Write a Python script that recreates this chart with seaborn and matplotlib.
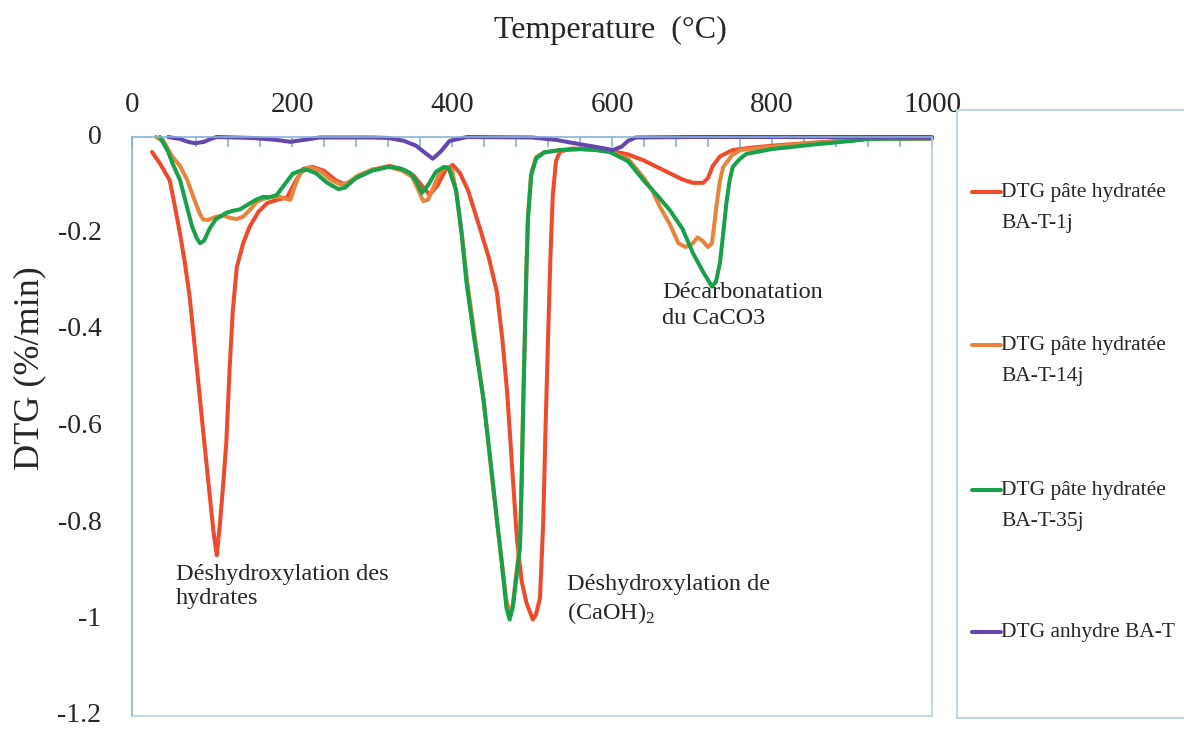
import pandas as pd
import seaborn as sns
import matplotlib.pyplot as plt
from matplotlib.ticker import MultipleLocator

# values: temperature (°C) / DTG (%/min)
t_1j = [25, 35, 47, 52, 60, 66, 72, 80, 89, 97, 102, 106, 110, 114, 118, 122, 126, 131, 139, 147,
        158, 169, 182, 194, 205, 214, 226, 240, 255, 266, 280, 300, 322, 340, 352, 362, 372, 382,
        392, 401, 410, 420, 435, 446, 456, 463, 469, 475, 481, 487, 493, 501, 505, 510, 514, 517,
        520, 523, 526, 530, 535, 550, 575, 597, 620, 639, 656, 672, 688, 701, 714, 720, 726, 735,
        751, 775, 800, 850, 900, 925, 1000]
dtg_1j = [-0.031, -0.055, -0.089, -0.13, -0.20, -0.26, -0.33, -0.46, -0.61, -0.74, -0.82, -0.867,
          -0.80, -0.72, -0.63, -0.48, -0.36, -0.27, -0.22, -0.186, -0.155, -0.137, -0.13, -0.125,
          -0.09, -0.066, -0.062, -0.07, -0.09, -0.098, -0.085, -0.068, -0.06, -0.068, -0.08, -0.10,
          -0.12, -0.10, -0.068, -0.058, -0.075, -0.11, -0.19, -0.25, -0.32, -0.42, -0.53, -0.68,
          -0.83, -0.92, -0.965, -1.0, -0.99, -0.955, -0.80, -0.60, -0.42, -0.25, -0.12, -0.05,
          -0.03, -0.024, -0.025, -0.028, -0.036, -0.048, -0.062, -0.075, -0.088, -0.095, -0.095,
          -0.085, -0.06, -0.04, -0.027, -0.022, -0.018, -0.012, -0.006, -0.003, -0.003]

t_14j = [30, 40, 50, 60, 69, 78, 85, 89, 95, 106, 115, 123, 131, 139, 148, 156, 165, 175, 185, 192,
         198, 204, 210, 222, 235, 248, 260, 270, 282, 300, 322, 338, 350, 358, 364, 370, 378, 386,
         394, 400, 406, 413, 419, 429, 440, 449, 457, 463, 468, 472, 476, 480, 485, 487, 489, 491,
         493, 495, 499, 505, 515, 535, 560, 580, 597, 620, 639, 650, 660, 672, 683, 692, 700, 707,
         713, 720, 725, 728, 731, 735, 739, 750, 760, 800, 850, 900, 920, 1000]
dtg_14j = [0.0, -0.01, -0.04, -0.06, -0.089, -0.13, -0.16, -0.171, -0.172, -0.165, -0.163, -0.168,
           -0.17, -0.165, -0.15, -0.134, -0.128, -0.124, -0.124, -0.128, -0.13, -0.10, -0.075,
           -0.062, -0.07, -0.088, -0.098, -0.095, -0.08, -0.068, -0.062, -0.07, -0.082, -0.11,
           -0.133, -0.13, -0.10, -0.07, -0.062, -0.068, -0.12, -0.21, -0.30, -0.42, -0.55, -0.69,
           -0.81, -0.89, -0.96, -0.985, -0.97, -0.91, -0.84, -0.71, -0.55, -0.41, -0.27, -0.16,
           -0.075, -0.042, -0.032, -0.027, -0.025, -0.027, -0.03, -0.045, -0.083, -0.11, -0.145,
           -0.18, -0.22, -0.228, -0.222, -0.208, -0.215, -0.228, -0.22, -0.18, -0.137, -0.09,
           -0.062, -0.038, -0.027, -0.02, -0.013, -0.007, -0.004, -0.003]

t_35j = [35, 45, 52, 60, 68, 75, 81, 85, 90, 97, 105, 118, 126, 135, 145, 155, 164, 172, 181, 190,
         201, 210, 219, 230, 244, 258, 266, 280, 300, 320, 335, 348, 355, 362, 370, 380, 390, 396,
         405, 412, 418, 428, 439, 448, 456, 462, 468, 472, 476, 480, 485, 487, 489, 491, 493, 495,
         499, 505, 515, 535, 560, 580, 597, 620, 639, 656, 672, 688, 701, 714, 725, 730, 735, 739,
         743, 747, 751, 760, 768, 800, 850, 900, 920, 1000]
dtg_35j = [0.0, -0.03, -0.06, -0.089, -0.14, -0.185, -0.21, -0.22, -0.215, -0.19, -0.17, -0.157,
           -0.153, -0.15, -0.14, -0.13, -0.124, -0.125, -0.12, -0.10, -0.076, -0.07, -0.068,
           -0.075, -0.095, -0.108, -0.105, -0.085, -0.07, -0.062, -0.065, -0.075, -0.09, -0.116,
           -0.10, -0.072, -0.062, -0.065, -0.11, -0.20, -0.30, -0.42, -0.54, -0.67, -0.79, -0.88,
           -0.975, -1.0, -0.975, -0.92, -0.85, -0.72, -0.56, -0.42, -0.28, -0.17, -0.08, -0.045,
           -0.032, -0.027, -0.025, -0.027, -0.031, -0.05, -0.089, -0.12, -0.151, -0.19, -0.24,
           -0.28, -0.31, -0.30, -0.26, -0.20, -0.137, -0.09, -0.062, -0.045, -0.035, -0.025,
           -0.016, -0.008, -0.004, -0.003]

t_anh = [45, 60, 70, 79, 90, 100, 106, 150, 180, 198, 215, 235, 300, 320, 340, 355, 368, 376, 386,
         397, 419, 500, 530, 560, 585, 601, 612, 620, 630, 700, 1000]
dtg_anh = [0.0, -0.004, -0.01, -0.013, -0.01, -0.003, 0.0, -0.002, -0.006, -0.01, -0.006, -0.001,
           -0.001, -0.002, -0.008, -0.018, -0.035, -0.045, -0.03, -0.008, 0.0, -0.001, -0.006,
           -0.015, -0.022, -0.027, -0.02, -0.008, -0.001, 0.0, 0.0]

labels = ["DTG pâte hydratée\nBA-T-1j", "DTG pâte hydratée\nBA-T-14j",
          "DTG pâte hydratée\nBA-T-35j", "DTG anhydre BA-T"]
colors = ["#f04a2c", "#e8843c", "#16a14a", "#6447ae"]

y_ticks = [0, -0.2, -0.4, -0.6, -0.8, -1.0, -1.2]
y_tick_labels = ["0", "-0.2", "-0.4", "-0.6", "-0.8", "-1", "-1.2"]

df = pd.concat([
    pd.DataFrame({"T": t_1j, "DTG": dtg_1j, "serie": labels[0]}),
    pd.DataFrame({"T": t_14j, "DTG": dtg_14j, "serie": labels[1]}),
    pd.DataFrame({"T": t_35j, "DTG": dtg_35j, "serie": labels[2]}),
    pd.DataFrame({"T": t_anh, "DTG": dtg_anh, "serie": labels[3]}),
])

sns.set_style("white")
plt.rcParams["font.family"] = ["Liberation Serif", "DejaVu Serif"]
plt.rcParams["mathtext.fontset"] = "custom"
plt.rcParams["mathtext.rm"] = "Liberation Serif"
plt.rcParams["axes.unicode_minus"] = False

W, H = 1184, 731
fig = plt.figure(figsize=(W / 100, H / 100), dpi=100)
ax = fig.add_axes([132 / W, 1 - 716 / H, 800 / W, (716 - 137) / H])

sns.lineplot(data=df, x="T", y="DTG", hue="serie", hue_order=labels, palette=colors,
             estimator=None, sort=False, linewidth=2.9, legend=False, ax=ax)
for ln in ax.lines:
    ln.set_clip_on(False)
    ln.set_solid_joinstyle("round")
    ln.set_solid_capstyle("round")

ax.set_xlim(0, 1000)
ax.set_ylim(-1.2, 0)
ax.set_xlabel("")
ax.set_ylabel("")
ax.xaxis.tick_top()
ax.xaxis.set_major_locator(MultipleLocator(200))
ax.xaxis.set_minor_locator(MultipleLocator(40))
ax.set_yticks(y_ticks, labels=y_tick_labels, va="center")
ax.yaxis.set_minor_locator(MultipleLocator(0.04))

spine_col = "#86b4d4"
for s in ax.spines.values():
    s.set_color("#b5d1e5")
    s.set_linewidth(1.2)
ax.spines["left"].set_color(spine_col)
ax.spines["top"].set_color(spine_col)
ax.tick_params(axis="both", which="both", direction="in", length=7, width=1.2,
               color=spine_col)
ax.tick_params(axis="x", pad=14, labelsize=21)
ax.tick_params(axis="y", pad=22, labelsize=20)

fig.text(610 / W, 1 - 30 / H, "Temperature  (°C)", ha="center", va="center", fontsize=23)
fig.text(30 / W, 1 - 368 / H, "DTG (%/min)", ha="center", va="center", rotation=90, fontsize=26)

ax.text(55, -0.885, "Déshydroxylation des\nhydrates", ha="left", va="top",
        fontsize=17.5, linespacing=1.2)
ax.text(544, -0.905, "Déshydroxylation de\n(CaOH)$_2$", ha="left", va="top",
        fontsize=17.5, linespacing=1.3)
ax.text(663, -0.30, "Décarbonatation\ndu CaCO3", ha="left", va="top",
        fontsize=17.5, linespacing=1.3)

# legend drawn in its own framed box on the right
lg = fig.add_axes([957 / W, 1 - 718 / H, 240 / W, (718 - 110) / H])
lg.set_xlim(0, 240)
lg.set_ylim(718, 110)
lg.set_xticks([])
lg.set_yticks([])
for s in lg.spines.values():
    s.set_color("#b5d1e5")
    s.set_linewidth(1.2)
entry_y = [192, 345, 490, 632]
for lab, col, yy in zip(labels, colors, entry_y):
    lg.plot([15, 44], [yy, yy], color=col, linewidth=2.9)
    lg.text(44, yy - 9, lab, ha="left", va="top", fontsize=15.5, linespacing=1.85)

fig.savefig("out.png", dpi=100)
